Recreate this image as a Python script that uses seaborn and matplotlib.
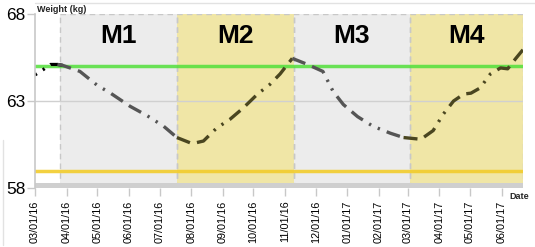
import matplotlib
matplotlib.use("Agg")
import matplotlib.pyplot as plt
from matplotlib.lines import Line2D
import seaborn as sns
import pandas as pd

sns.set_theme(style="white")
plt.rcParams['font.family'] = ['Liberation Sans', 'DejaVu Sans']

# ---- data ----
dates = ["2016-03-01", "2016-03-09", "2016-03-16", "2016-03-23", "2016-03-28",
         "2016-04-14", "2016-05-01", "2016-05-14", "2016-06-02", "2016-06-19",
         "2016-07-05", "2016-07-18", "2016-08-02", "2016-08-13", "2016-08-26",
         "2016-09-08", "2016-09-21", "2016-10-05", "2016-10-17", "2016-10-27",
         "2016-11-08", "2016-11-23", "2016-12-08", "2016-12-18", "2016-12-28",
         "2017-01-11", "2017-01-26", "2017-02-12", "2017-02-25", "2017-03-14",
         "2017-03-26", "2017-04-05", "2017-04-15", "2017-04-25", "2017-05-02",
         "2017-05-11", "2017-05-21", "2017-05-31", "2017-06-07", "2017-06-15",
         "2017-06-22"]
weights = [64.5, 64.8, 65.1, 65.1, 65.05,
           64.7, 63.9, 63.45, 62.7, 62.15,
           61.55, 60.9, 60.55, 60.7, 61.45,
           61.95, 62.6, 63.4, 63.95, 64.55,
           65.45, 65.1, 64.7, 63.55, 62.8,
           62.1, 61.55, 61.15, 60.9, 60.8,
           61.3, 62.25, 63.0, 63.4, 63.45,
           63.75, 64.55, 64.9, 64.85, 65.45,
           65.95]

phase_names = ["M1", "M2", "M3", "M4"]
phase_starts = ["2016-03-25", "2016-07-18", "2016-11-10", "2017-03-03"]
phase_end = "2017-06-22"
phase_colors = ["#ececec", "#f0e6a6", "#ececec", "#f0e6a6"]
line_colors = ["#555555", "#4a4620", "#555555", "#4a4620"]

upper_target = 65.0
lower_target = 59.0

tick_dates = pd.date_range("2016-03-01", "2017-06-01", freq="MS")
tick_labels = [d.strftime("%m/%d/%y") for d in tick_dates]

# ---- figure ----
fig = plt.figure(figsize=(5.35, 2.47), dpi=100)
W, H = 535, 247
ax = fig.add_axes([35 / W, 1 - 188 / H, (523 - 35) / W, (188 - 14) / H])

df = pd.DataFrame({"date": pd.to_datetime(dates), "weight": weights})
starts = pd.to_datetime(phase_starts)
end = pd.to_datetime(phase_end)
bounds = list(starts) + [end]

# bands
for i in range(4):
    ax.axvspan(bounds[i], bounds[i + 1], ymin=0, ymax=1, color=phase_colors[i], lw=0, zorder=0)
    for b in (bounds[i], bounds[i + 1]):
        ax.axvline(b, color="#c8c8c8", lw=1, ls=(0, (4, 3)), zorder=1)
    mid = bounds[i] + (bounds[i + 1] - bounds[i]) / 2
    ax.text(mid, 66.75, phase_names[i], ha="center", va="center", fontsize=19,
            fontweight="bold", color="black",
            family=["Liberation Sans Narrow", "Liberation Sans", "DejaVu Sans"], zorder=5)
ax.plot([bounds[0], end], [68, 68], color="#c8c8c8", lw=1, ls=(0, (4, 3)), zorder=1)

# grid and targets
ax.axhline(63, color="#d0d0d0", lw=1, zorder=1)
ax.axhspan(58, 58.3, color="#cfcfcf", lw=0, zorder=1)
ax.axhline(upper_target, color="#52e03a", lw=2.5, alpha=0.85, zorder=2)
ax.axhline(lower_target, color="#f2cc2c", lw=2.5, alpha=0.9, zorder=2)

# weight line, segmented by phase
dash = (0, (4.2, 2.2, 4.2, 2.2, 0.7, 2.2, 0.7, 2.2))
pre = df[df["date"] <= starts[0] + pd.Timedelta(days=3)]
sns.lineplot(data=pre, x="date", y="weight", ax=ax, color="black", lw=2.3,
             linestyle=(0, (0.7, 2.2, 0.7, 2.2, 4.2, 1)), zorder=4)
for i in range(4):
    lo = bounds[i] - pd.Timedelta(days=6)
    hi = bounds[i + 1] + pd.Timedelta(days=6)
    seg = df[(df["date"] >= lo) & (df["date"] <= hi)]
    sns.lineplot(data=seg, x="date", y="weight", ax=ax, color=line_colors[i], lw=2.4,
                 linestyle=dash, zorder=4)

# axes styling
ax.set_xlim(pd.Timestamp("2016-03-01"), end)
ax.set_ylim(58, 68)
ax.set_xlabel("")
ax.set_ylabel("")
for s in ["top", "right", "bottom"]:
    ax.spines[s].set_visible(False)
ax.spines["left"].set_color("#c8c8c8")
ax.spines["left"].set_linewidth(1.2)
ax.spines["left"].set_zorder(6)

ax.set_yticks([58, 63, 68])
ax.set_yticklabels(["58", "63", "68"], fontsize=12.5, color="black")
ax.set_xticks(tick_dates)
ax.set_xticklabels(tick_labels, rotation=90, fontsize=7.8, color="black")
ax.tick_params(axis="x", bottom=True, length=6, color="#c8c8c8", width=1, pad=3)
ax.tick_params(axis="y", left=True, length=6, color="#c8c8c8", width=1, pad=1)

fig.text(37 / W, 1 - 9 / H, "Weight (kg)", fontsize=6.5, fontweight="bold",
         ha="left", va="center")
fig.text(509 / W, 1 - 196 / H, "Date", fontsize=6.5, fontweight="bold",
         ha="left", va="center")

# faint frame lines
fig.add_artist(Line2D([35 / W, 1], [1 - 3 / H, 1 - 3 / H], color="#e2e2e2", lw=1))
fig.add_artist(Line2D([3 / W, 3 / W], [1 - 140 / H, 1 - 245 / H], color="#e2e2e2", lw=1))

fig.savefig("out.png", dpi=100)
